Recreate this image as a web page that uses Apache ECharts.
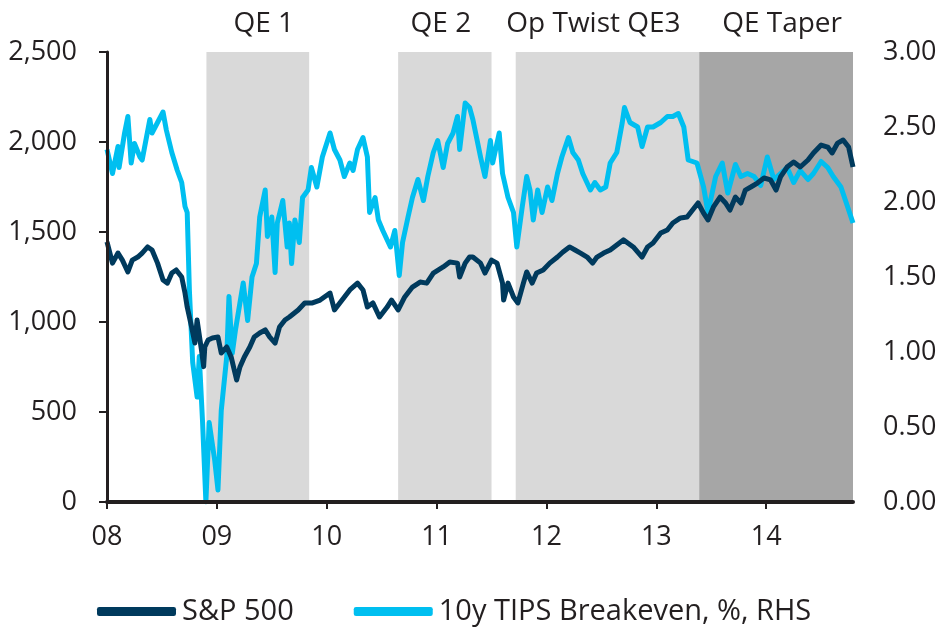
<!DOCTYPE html>
<html>
<head>
<meta charset="utf-8">
<script src="https://cdn.jsdelivr.net/npm/echarts@6/dist/echarts.min.js"></script>
<style>html,body{margin:0;padding:0;background:#fff}#c{width:940px;height:630px}</style>
</head>
<body>
<div id="c"></div>
<script>
// ---- data (decimal years) ----
var spxYears = [2008.00,2008.05,2008.10,2008.14,2008.19,2008.23,2008.28,2008.32,2008.37,2008.41,2008.46,2008.51,2008.55,2008.59,2008.63,2008.68,2008.71,2008.73,2008.77,2008.80,2008.82,2008.86,2008.88,2008.89,2008.92,2008.96,2009.01,2009.04,2009.09,2009.13,2009.18,2009.21,2009.25,2009.30,2009.34,2009.39,2009.44,2009.48,2009.53,2009.57,2009.62,2009.66,2009.74,2009.80,2009.87,2009.94,2010.03,2010.07,2010.14,2010.21,2010.28,2010.33,2010.37,2010.42,2010.48,2010.55,2010.59,2010.65,2010.71,2010.78,2010.85,2010.91,2010.97,2011.06,2011.12,2011.19,2011.21,2011.26,2011.30,2011.33,2011.40,2011.44,2011.50,2011.55,2011.60,2011.61,2011.65,2011.70,2011.74,2011.79,2011.82,2011.87,2011.91,2011.97,2012.03,2012.10,2012.15,2012.21,2012.26,2012.31,2012.37,2012.42,2012.46,2012.52,2012.58,2012.64,2012.70,2012.74,2012.79,2012.87,2012.92,2012.97,2013.04,2013.10,2013.15,2013.22,2013.28,2013.33,2013.38,2013.43,2013.47,2013.52,2013.58,2013.63,2013.67,2013.72,2013.77,2013.81,2013.86,2013.92,2013.98,2014.04,2014.09,2014.13,2014.19,2014.25,2014.31,2014.38,2014.43,2014.50,2014.56,2014.60,2014.65,2014.70,2014.75,2014.79];
var spxValues = [1445,1327,1383,1344,1278,1344,1361,1383,1417,1400,1327,1233,1216,1272,1289,1250,1161,1083,972,883,1011,844,752,861,900,911,917,828,861,806,678,750,806,861,917,939,956,917,883,972,1011,1028,1067,1106,1106,1122,1161,1067,1122,1178,1216,1178,1083,1106,1028,1083,1122,1067,1139,1194,1222,1216,1272,1306,1333,1327,1250,1327,1361,1361,1327,1272,1344,1327,1216,1122,1216,1139,1106,1216,1278,1216,1272,1289,1327,1361,1389,1417,1400,1383,1361,1327,1361,1383,1400,1428,1456,1439,1417,1361,1417,1439,1494,1511,1550,1578,1583,1622,1661,1605,1567,1639,1694,1661,1622,1694,1661,1733,1750,1772,1800,1789,1733,1806,1861,1889,1861,1900,1939,1983,1972,1939,1994,2011,1972,1861];

var tipsYears = [2008.00,2008.05,2008.10,2008.11,2008.16,2008.19,2008.22,2008.25,2008.30,2008.32,2008.39,2008.41,2008.46,2008.51,2008.54,2008.59,2008.64,2008.68,2008.71,2008.73,2008.75,2008.78,2008.82,2008.84,2008.87,2008.90,2008.93,2008.98,2009.01,2009.04,2009.09,2009.11,2009.14,2009.17,2009.24,2009.28,2009.32,2009.36,2009.39,2009.44,2009.46,2009.50,2009.53,2009.55,2009.60,2009.64,2009.66,2009.68,2009.71,2009.75,2009.78,2009.83,2009.86,2009.91,2009.96,2010.03,2010.07,2010.12,2010.16,2010.21,2010.24,2010.28,2010.33,2010.37,2010.39,2010.44,2010.47,2010.51,2010.58,2010.62,2010.66,2010.69,2010.74,2010.78,2010.83,2010.88,2010.92,2010.97,2011.01,2011.06,2011.10,2011.15,2011.19,2011.21,2011.26,2011.30,2011.33,2011.40,2011.44,2011.49,2011.51,2011.57,2011.60,2011.65,2011.70,2011.73,2011.78,2011.82,2011.85,2011.88,2011.92,2011.96,2012.01,2012.05,2012.10,2012.14,2012.20,2012.24,2012.29,2012.33,2012.40,2012.44,2012.49,2012.54,2012.58,2012.64,2012.69,2012.71,2012.76,2012.83,2012.87,2012.92,2012.97,2013.04,2013.10,2013.15,2013.20,2013.25,2013.29,2013.37,2013.43,2013.47,2013.54,2013.60,2013.65,2013.72,2013.77,2013.83,2013.89,2013.95,2014.01,2014.07,2014.13,2014.19,2014.25,2014.31,2014.38,2014.43,2014.50,2014.56,2014.61,2014.68,2014.74,2014.79];
var tipsValues = [2.35,2.19,2.37,2.23,2.46,2.57,2.26,2.39,2.30,2.28,2.55,2.46,2.53,2.60,2.48,2.33,2.21,2.13,1.97,1.93,1.41,0.93,0.70,0.97,0.53,0.00,0.53,0.28,0.08,0.61,0.97,1.37,0.99,1.15,1.46,1.21,1.50,1.59,1.90,2.08,1.77,1.90,1.53,1.86,2.01,1.70,1.86,1.59,1.88,1.73,2.03,2.08,2.23,2.10,2.30,2.46,2.35,2.28,2.17,2.26,2.21,2.35,2.43,2.30,1.93,2.03,1.88,1.81,1.70,1.81,1.51,1.73,1.90,2.03,2.15,2.01,2.17,2.33,2.41,2.23,2.39,2.46,2.57,2.35,2.66,2.63,2.55,2.30,2.17,2.41,2.26,2.46,2.19,2.03,1.93,1.70,1.97,2.17,2.08,1.88,2.08,1.93,2.10,2.01,2.19,2.30,2.43,2.33,2.28,2.19,2.08,2.13,2.08,2.10,2.26,2.33,2.53,2.63,2.53,2.50,2.37,2.50,2.50,2.53,2.57,2.57,2.59,2.50,2.28,2.26,2.10,1.93,2.17,2.26,2.06,2.25,2.17,2.19,2.17,2.11,2.30,2.15,2.19,2.23,2.13,2.21,2.15,2.19,2.27,2.23,2.17,2.10,1.97,1.86];

var bandNames = ['QE 1','QE 2','Op Twist QE3','QE Taper'];
var bandStarts = [2008.905, 2010.65, 2011.72, 2013.39];
var bandEnds = [2009.84, 2011.50, 2013.39, 2014.79];

var leftTicks = [0, 500, 1000, 1500, 2000, 2500];
var rightTicks = [0, 0.5, 1, 1.5, 2, 2.5, 3];
var xTickYears = [2008, 2009, 2010, 2011, 2012, 2013, 2014];

// ---- styles ----
var FONT = 'Open Sans';
var TXT = '#231f20';
var bandColors = ['#d9d9d9','#d9d9d9','#d9d9d9','#a6a6a6'];
var labelOffsets = [6, -4, -14, 6];

function zip(a, b) { return a.map(function (v, i) { return [v, b[i]]; }); }

var bandData = bandNames.map(function (n, i) {
  return [
    { name: n, xAxis: bandStarts[i], yAxis: leftTicks[0],
      itemStyle: { color: bandColors[i] },
      label: { offset: [labelOffsets[i], 0] } },
    { xAxis: bandEnds[i], yAxis: leftTicks[leftTicks.length - 1] }
  ];
});

var chart = echarts.init(document.getElementById('c'), null, { renderer: 'canvas' });
chart.setOption({
  animation: false,
  backgroundColor: '#fff',
  textStyle: { fontFamily: FONT },
  grid: { left: 107, right: 87, top: 52, bottom: 128, containLabel: false },
  legend: {
    bottom: 4, left: 97, padding: 0,
    data: ['S&P 500', '10y TIPS Breakeven, %, RHS'],
    itemWidth: 79, itemHeight: 9, itemGap: 60,
    icon: 'roundRect',
    textStyle: { fontSize: 29, color: TXT, fontFamily: FONT, padding: [0, 0, 0, 1] }
  },
  xAxis: {
    type: 'value', min: xTickYears[0], max: bandEnds[3], interval: 1, z: 10,
    axisLine: { show: true, lineStyle: { color: '#231f20', width: 4 } },
    axisTick: { show: true, length: 7, customValues: xTickYears, lineStyle: { color: '#231f20', width: 2 } },
    axisLabel: { margin: 22, fontSize: 27, color: TXT, fontFamily: FONT, customValues: xTickYears,
      formatter: function (v) { var s = String(Math.round(v) % 100); return s.length < 2 ? '0' + s : s; } },
    splitLine: { show: false }
  },
  yAxis: [
    { type: 'value', min: leftTicks[0], max: leftTicks[leftTicks.length - 1], interval: 500, z: 10,
      axisLine: { show: true, lineStyle: { color: '#231f20', width: 3 } },
      axisTick: { show: true, length: 8, lineStyle: { color: '#231f20', width: 2 } },
      axisLabel: { margin: 30, fontSize: 27, color: TXT, fontFamily: FONT,
        formatter: function (v) { return v.toLocaleString('en-US'); } },
      splitLine: { show: false } },
    { type: 'value', min: rightTicks[0], max: rightTicks[rightTicks.length - 1], interval: 0.5,
      position: 'right',
      axisLine: { show: false }, axisTick: { show: false },
      axisLabel: { margin: 30, fontSize: 27, color: TXT, fontFamily: FONT,
        formatter: function (v) { return v.toFixed(2); } },
      splitLine: { show: false } }
  ],
  series: [
    { name: 'bands', type: 'line', data: [], z: 1, silent: true,
      markArea: { silent: true,
        label: { show: true, position: 'top', distance: 14, fontSize: 28, color: TXT, fontFamily: FONT },
        data: bandData } },
    { name: 'S&P 500', type: 'line', yAxisIndex: 0, z: 4, showSymbol: false, symbol: 'none',
      data: zip(spxYears, spxValues),
      lineStyle: { color: '#003a5d', width: 5, join: 'round' }, itemStyle: { color: '#003a5d' } },
    { name: '10y TIPS Breakeven, %, RHS', type: 'line', yAxisIndex: 1, z: 3, showSymbol: false, symbol: 'none',
      data: zip(tipsYears, tipsValues),
      lineStyle: { color: '#00bff0', width: 5, join: 'round' }, itemStyle: { color: '#00bff0' } }
  ]
});
</script>
</body>
</html>
